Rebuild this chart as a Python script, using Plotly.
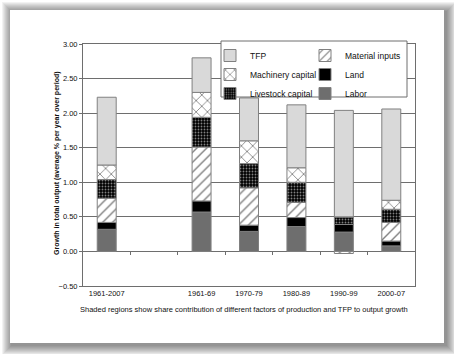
import plotly.graph_objects as go

# ---- data ----
periods = ["1961-2007", " ", "1961-69", "1970-79", "1980-89", "1990-99", "2000-07"]
labor = [0.32, None, 0.57, 0.29, 0.36, 0.28, 0.08]
land = [0.10, None, 0.16, 0.09, 0.13, 0.11, 0.07]
material_inputs = [0.35, None, 0.78, 0.54, 0.22, -0.03, 0.27]
livestock_capital = [0.27, None, 0.43, 0.35, 0.29, 0.11, 0.19]
machinery_capital = [0.21, None, 0.36, 0.33, 0.21, 0.00, 0.13]
tfp = [0.98, None, 0.50, 0.62, 0.91, 1.54, 1.32]

y_ticks = [-0.5, 0.0, 0.5, 1.0, 1.5, 2.0, 2.5, 3.0]

FONT = "Liberation Sans, Arial, sans-serif"
W, H = 454, 354
L, R, T, B = 83, 415, 44, 286


def px_x(px):
    return (px - L) / (R - L)


def px_y(py):
    return (B - py) / (B - T)


OUT = "#808080"
GRID = "#6e6e6e"

fig = go.Figure()

series = [
    ("Labor", labor, dict(color="#6e6e6e"), "legend2"),
    ("Land", land, dict(color="#000000"), "legend2"),
    ("Material inputs", material_inputs,
     dict(color="white", pattern=dict(shape="/", fgcolor="black", bgcolor="white", size=7, solidity=0.2)), "legend2"),
    ("Livestock capital", livestock_capital,
     dict(color="black", pattern=dict(shape=".", fgcolor="white", bgcolor="black", size=3, solidity=0.3)), "legend"),
    ("Machinery capital", machinery_capital,
     dict(color="white", pattern=dict(shape="x", fgcolor="black", bgcolor="white", size=8, solidity=0.2)), "legend"),
    ("TFP", tfp, dict(color="#d9d9d9"), "legend"),
]

for name, vals, mk, lg in series:
    mk = dict(mk)
    mk["line"] = dict(color=OUT, width=1)
    fig.add_trace(go.Bar(x=periods, y=vals, name=name, marker=mk, legend=lg))

# helper axis for category boundary ticks on the zero line
fig.add_trace(go.Scatter(x=[], y=[], xaxis="x2", showlegend=False, hoverinfo="skip"))

boundaries = [i + 0.5 for i in range(len(periods) - 1)]
ymin, ymax = y_ticks[0], y_ticks[-1]

shapes = []
# drop shadow around the card
for k in range(10):
    shapes.append(dict(
        type="rect", xref="paper", yref="paper", layer="below",
        x0=px_x(10 + 1 - k), x1=px_x(444 + 3 + k),
        y0=px_y(343 + 3 + k), y1=px_y(10 + 1 - k),
        fillcolor="black", opacity=0.05, line=dict(width=0)))
# white card
shapes.append(dict(type="rect", xref="paper", yref="paper", layer="below",
                   x0=px_x(10), x1=px_x(444), y0=px_y(343), y1=px_y(10),
                   fillcolor="white", line=dict(width=0)))
# legend box
shapes.append(dict(type="rect", xref="paper", yref="paper", layer="above",
                   x0=px_x(221), x1=px_x(407), y0=px_y(97), y1=px_y(41),
                   fillcolor="white", line=dict(color=GRID, width=1)))

fig.update_layout(
    width=W, height=H,
    margin=dict(l=L, r=W - R, t=T, b=H - B, pad=0),
    paper_bgcolor="white", plot_bgcolor="white",
    barmode="relative", bargap=0.6,
    font=dict(family=FONT, size=8, color="#111"),
    showlegend=True,
    legend=dict(x=px_x(210), y=px_y(41), xanchor="left", yanchor="top",
                bgcolor="rgba(0,0,0,0)", borderwidth=0, traceorder="reversed",
                font=dict(family=FONT, size=8.5, color="#111")),
    legend2=dict(x=px_x(305), y=px_y(41), xanchor="left", yanchor="top",
                 bgcolor="rgba(0,0,0,0)", borderwidth=0, traceorder="reversed",
                 font=dict(family=FONT, size=8.5, color="#111")),
    xaxis=dict(type="category", categoryorder="array", categoryarray=periods,
               range=[-0.5, len(periods) - 0.5],
               showline=True, mirror=True, linecolor=GRID, linewidth=1,
               ticks="", showgrid=False, zeroline=False,
               tickfont=dict(family=FONT, size=7.5, color="#111")),
    xaxis2=dict(overlaying="x", anchor="free", position=(0 - ymin) / (ymax - ymin),
                range=[-0.5, len(periods) - 0.5], tickmode="array", tickvals=boundaries,
                ticks="outside", ticklen=3, tickcolor=GRID, tickwidth=1,
                showticklabels=False, showgrid=False, showline=False, zeroline=False),
    yaxis=dict(range=[ymin, ymax], tickmode="array", tickvals=y_ticks,
               tickformat=".2f", showgrid=True, gridcolor=GRID, gridwidth=1,
               zeroline=True, zerolinecolor=GRID, zerolinewidth=1,
               showline=True, mirror=True, linecolor=GRID, linewidth=1,
               ticks="outside", ticklen=3, tickcolor=GRID,
               tickfont=dict(family=FONT, size=7.5, color="#111")),
    shapes=shapes,
    annotations=[
        dict(text="<b>Growth in total output (average % per year over period)</b>",
             textangle=-90, xref="paper", yref="paper", x=px_x(57), y=px_y(163),
             xanchor="center", yanchor="middle", showarrow=False,
             font=dict(family=FONT, size=7, color="#111")),
        dict(text="Shaded regions show share contribution of different factors of production and TFP to output growth",
             xref="paper", yref="paper", x=px_x(243.5), y=px_y(309),
             xanchor="center", yanchor="middle", showarrow=False,
             font=dict(family=FONT, size=7.5, color="#111")),
    ],
)

fig.write_html("out.html")
